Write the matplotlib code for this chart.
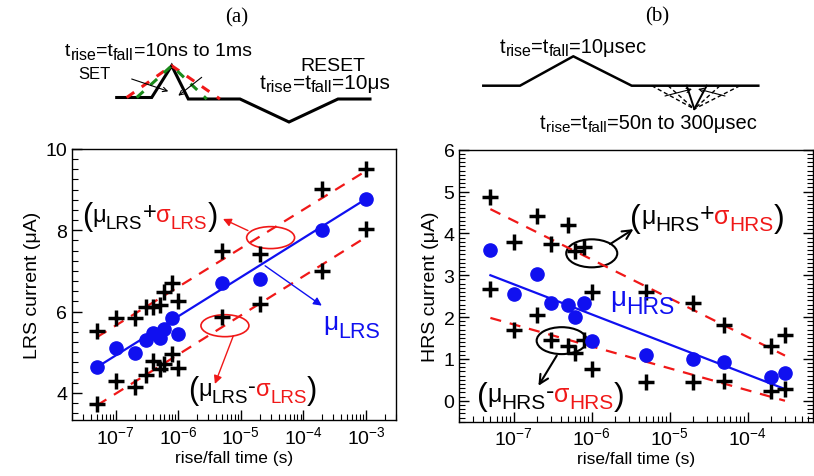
import numpy as np
import matplotlib
matplotlib.use("Agg")
import matplotlib.pyplot as plt
import matplotlib.transforms as mtransforms
from matplotlib.patches import Ellipse
from matplotlib.ticker import MultipleLocator, LogLocator, NullFormatter

plt.rcParams['font.family'] = ['Liberation Sans', 'DejaVu Sans']
plt.rcParams['mathtext.fontset'] = 'custom'
plt.rcParams['mathtext.rm'] = 'Liberation Sans'
plt.rcParams['mathtext.it'] = 'Liberation Sans:italic'
plt.rcParams['mathtext.bf'] = 'Liberation Sans:bold'

# ---- panel (a): LRS current vs rise/fall time
t_lrs = [5e-8, 1e-7, 2e-7, 3e-7, 4e-7, 5e-7, 6e-7, 8e-7, 1e-6, 5e-6, 2e-5, 2e-4, 1e-3]
mu_lrs = [4.63, 5.09, 4.98, 5.29, 5.46, 5.36, 5.57, 5.84, 5.44, 6.71, 6.79, 8.0, 8.77]
hi_lrs = [5.51, 5.85, 5.83, 6.12, 6.12, 6.16, 6.47, 6.69, 6.27, 7.49, 7.41, 9.01, 9.52]
lo_lrs = [3.73, 4.29, 4.14, 4.44, 4.77, 4.59, 4.71, 4.96, 4.62, 5.87, 6.18, 7.0, 8.02]
fit_t_lrs = [5e-8, 1e-3]
fit_mu_lrs = [4.63, 8.77]
fit_hi_lrs = [5.37, 9.46]
fit_lo_lrs = [3.69, 7.83]

# ---- panel (b): HRS current vs rise/fall time
t_hrs = [5e-8, 1e-7, 2e-7, 3e-7, 5e-7, 6e-7, 8e-7, 1e-6, 5e-6, 2e-5, 5e-5, 2e-4, 3e-4]
mu_hrs = [3.60, 2.54, 3.02, 2.34, 2.30, 2.0, 2.34, 1.43, 1.10, 1.0, 0.92, 0.56, 0.66]
hi_hrs = [4.88, 3.80, 4.42, 3.74, 4.19, 3.58, 3.68, 2.60, 2.60, 2.34, 1.80, 1.30, 1.56]
lo_hrs = [2.66, 1.68, 2.06, 1.46, 1.30, 1.14, 1.46, 0.76, 0.46, 0.44, 0.48, 0.24, 0.28]
fit_t_hrs = [5e-8, 3e-4]
fit_mu_hrs = [3.0, 0.28]
fit_hi_hrs = [4.58, 1.08]
fit_lo_hrs = [1.98, 0.0]

BLUE = '#1010f0'
RED = '#f01818'

fig = plt.figure(figsize=(8.14, 4.77), dpi=100)
W, H = 814., 477.


def px_axes(l, t, r, b):
    return fig.add_axes([l / W, 1 - b / H, (r - l) / W, (b - t) / H])


def rich_text(ax, x, y, parts, coords=None):
    # pieces of text in a row on one baseline: (text, colour, size, dy in px)
    r = fig.canvas.get_renderer()
    base = ax.transAxes if coords is None else coords
    cum = 0.0
    for s, c, sz, dy in parts:
        tr = mtransforms.offset_copy(base, x=cum, y=dy, units='dots')
        t = ax.text(x, y, s, color=c, fontsize=sz, transform=tr,
                    va='baseline', ha='left')
        cum += t.get_window_extent(r).width


def label(ax, x, y, name, sym_col, op, big, small, paren):
    rich_text(ax, x, y, [('(', 'black', paren, -3), ('μ', 'black', big, 0),
                         (name, 'black', small, -7), (op, 'black', big, 3),
                         ('σ', sym_col, big, 0), (name, sym_col, small, -7),
                         (')', 'black', paren, -3)])


def style(ax):
    ax.set_xscale('log')
    ax.tick_params(which='both', direction='in', labelsize=14)
    ax.tick_params(which='major', length=7, width=1)
    ax.tick_params(which='minor', length=4, width=0.8)
    ax.xaxis.set_major_locator(LogLocator(base=10, numticks=20))
    ax.xaxis.set_minor_locator(LogLocator(base=10, subs=np.arange(2, 10), numticks=20))
    ax.xaxis.set_minor_formatter(NullFormatter())
    ax.set_xlabel('rise/fall time (s)', fontsize=12.5, labelpad=2)
    for s in ax.spines.values():
        s.set_linewidth(1.0)


def plot_panel(ax, t, mu, hi, lo, ft, fmu, fhi, flo):
    ax.plot(ft, fhi, color=RED, lw=1.6, dashes=(5, 4))
    ax.plot(ft, flo, color=RED, lw=1.6, dashes=(5, 4))
    ax.plot(ft, fmu, color=BLUE, lw=1.6)
    ax.plot(t, hi, '+', color='black', ms=11, mew=2.5)
    ax.plot(t, lo, '+', color='black', ms=11, mew=2.5)
    ax.plot(t, mu, 'o', color=BLUE, ms=9.5, mec=BLUE)


# ---------------- panel (a)
ax1 = px_axes(72, 150, 396, 421)
plot_panel(ax1, t_lrs, mu_lrs, hi_lrs, lo_lrs, fit_t_lrs, fit_mu_lrs, fit_hi_lrs, fit_lo_lrs)
style(ax1)
ax1.set_xlim(10 ** -7.70, 10 ** -2.52)
ax1.set_ylim(3.33, 10)
ax1.yaxis.set_major_locator(MultipleLocator(2))
ax1.yaxis.set_minor_locator(MultipleLocator(0.25))
ax1.set_ylabel('LRS current (μA)', fontsize=14, labelpad=3)

ax1.add_patch(Ellipse((0.613, 0.673), 0.148, 0.081, transform=ax1.transAxes,
                      fill=False, ec=RED, lw=1.2))
ax1.add_patch(Ellipse((0.472, 0.348), 0.148, 0.081, transform=ax1.transAxes,
                      fill=False, ec=RED, lw=1.2))
arrow_r = dict(arrowstyle='-|>', color=RED, lw=1.0, mutation_scale=12, shrinkA=0, shrinkB=0)
arrow_b = dict(arrowstyle='-|>', color=BLUE, lw=1.0, mutation_scale=12, shrinkA=0, shrinkB=0)
ax1.annotate('', xy=(0.466, 0.742), xytext=(0.543, 0.699), xycoords='axes fraction',
             arrowprops=arrow_r)
ax1.annotate('', xy=(0.441, 0.133), xytext=(0.498, 0.311), xycoords='axes fraction',
             arrowprops=arrow_r)
ax1.annotate('', xy=(0.771, 0.422), xytext=(0.596, 0.569), xycoords='axes fraction',
             arrowprops=arrow_b)

label(ax1, 0.031, 0.735, 'LRS', RED, '+', 17, 13.5, 22)
label(ax1, 0.358, 0.093, 'LRS', RED, '-', 17, 13.5, 22)
rich_text(ax1, 0.775, 0.335, [('μ', BLUE, 19, 0), ('LRS', BLUE, 15.5, -8)])

# ---------------- panel (b)
ax2 = px_axes(459.3, 150.7, 812.5, 422.7)
plot_panel(ax2, t_hrs, mu_hrs, hi_hrs, lo_hrs, fit_t_hrs, fit_mu_hrs, fit_hi_hrs, fit_lo_hrs)
style(ax2)
ax2.set_xlim(10 ** -7.70, 10 ** -3.17)
ax2.set_ylim(-0.5, 6)
ax2.yaxis.set_major_locator(MultipleLocator(1))
ax2.yaxis.set_minor_locator(MultipleLocator(0.1))
ax2.tick_params(which='both', right=True)
ax2.set_ylabel('HRS current (μA)', fontsize=14, labelpad=3)

ax2.add_patch(Ellipse((0.375, 0.619), 0.1445, 0.103, transform=ax2.transAxes,
                      fill=False, ec='black', lw=1.5))
ax2.add_patch(Ellipse((0.290, 0.298), 0.142, 0.099, transform=ax2.transAxes,
                      fill=False, ec='black', lw=1.5))
arrow_k = dict(arrowstyle='->', color='black', lw=1.5, mutation_scale=16, shrinkA=0, shrinkB=0)
ax2.annotate('', xy=(0.493, 0.708), xytext=(0.427, 0.653), xycoords='axes fraction',
             arrowprops=arrow_k)
ax2.annotate('', xy=(0.224, 0.132), xytext=(0.276, 0.243), xycoords='axes fraction',
             arrowprops=arrow_k)
label(ax2, 0.484, 0.732, 'HRS', RED, '+', 18, 15, 23)
label(ax2, 0.049, 0.075, 'HRS', RED, '-', 18, 15, 23)
rich_text(ax2, 0.427, 0.428, [('μ', BLUE, 20, 0), ('HRS', BLUE, 16.5, -8)])

# ---------------- pulse schematics on top (pixel coordinates)
top = fig.add_axes([0, 0, 1, 1], zorder=-1)
top.set_xlim(0, W)
top.set_ylim(H, 0)
top.axis('off')

set_pulse_x = [116.7, 151.7, 171.7, 188.3, 240, 289, 338, 370]
set_pulse_y = [98.5, 98.5, 66.7, 100, 100, 123, 100, 100]
red_pulse_x = [126.7, 171.7, 220]
red_pulse_y = [98.5, 66.7, 100]
grn_pulse_x = [136.7, 171.7, 206.7]
grn_pulse_y = [98.5, 66.7, 100]
top.plot(set_pulse_x, set_pulse_y, color='black', lw=2.2, solid_joinstyle='miter')
top.plot(red_pulse_x, red_pulse_y, color=RED, lw=2.2, dashes=(3, 3))
top.plot(grn_pulse_x, grn_pulse_y, color='#1a8a1a', lw=2.2, dashes=(3, 3))
thin = dict(arrowstyle='->', color='black', lw=0.8, mutation_scale=8, shrinkA=0, shrinkB=0)
top.annotate('', xy=(168.3, 92.3), xytext=(131.7, 80), arrowprops=thin)
top.annotate('', xy=(178.3, 96.7), xytext=(201.7, 78.3), arrowprops=thin)

reset_pulse_x = [483.3, 520, 573.3, 631.7, 758.3]
reset_pulse_y = [86.7, 86.7, 57.3, 86.7, 86.7]
top.plot(reset_pulse_x, reset_pulse_y, color='black', lw=1.8)
apex = (694.3, 110)
for xs in [686.7, 706.7]:
    top.plot([xs, apex[0]], [86.7, apex[1]], color='black', lw=1.4)
for xs in [651.7, 668, 720, 740]:
    top.plot([xs, apex[0]], [86.7, apex[1]], color='black', lw=1.0, dashes=(3, 2))
top.annotate('', xy=(692, 90), xytext=(665, 97), arrowprops=thin)
top.annotate('', xy=(698, 90), xytext=(725, 97), arrowprops=thin)

top.text(237, 18, '(a)', family=['Liberation Serif'], fontsize=15, ha='center', va='center')
top.text(657, 17, '(b)', family=['Liberation Serif'], fontsize=15, ha='center', va='center')
px = top.transData


def trise(x, y, tail, big, small):
    rich_text(top, x, y, [('t', 'black', big, 0), ('rise', 'black', small, -3),
                          ('=t', 'black', big, 0), ('fall', 'black', small, -3),
                          (tail, 'black', big, 0)], coords=px)


trise(65, 56.5, '=10ns to 1ms', 14, 11.5)
top.text(78, 79, 'SET', fontsize=12, va='baseline')
top.text(300, 70.7, 'RESET', fontsize=14, va='baseline')
trise(260, 89, '=10μs', 15, 12)
trise(500, 53.3, '=10μsec', 14.5, 11.5)
trise(540, 129.3, '=50n to 300μsec', 14.5, 11)

fig.savefig('out.png', dpi=100)
